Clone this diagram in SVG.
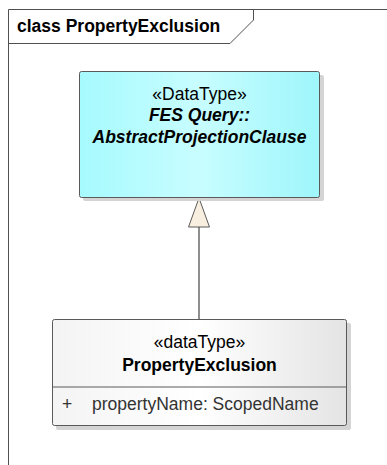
<svg xmlns="http://www.w3.org/2000/svg" width="387" height="465" viewBox="0 0 387 465">
<style>
text{font-family:"Liberation Sans",Arial,sans-serif;fill:#000}
.t{font-size:17.5px;font-weight:bold}
.n{font-size:17.5px}
.c{text-anchor:middle}
.b{font-weight:bold}
.i{font-style:italic;font-weight:bold}
.box{stroke:#5a5a5a;stroke-width:1}
.sh{fill:#d4d4d4}
.ln{stroke:#6a6a6a;stroke-width:1.5;fill:none}
</style>
<defs>
<linearGradient id="gc" x1="0" y1="0" x2="1" y2="0">
<stop offset="0" stop-color="#a6fafe"/>
<stop offset="0.5" stop-color="#c8fdff"/>
<stop offset="1" stop-color="#9ef6fb"/>
</linearGradient>
<linearGradient id="gw" x1="0" y1="0" x2="1" y2="0">
<stop offset="0" stop-color="#f4f4f4"/>
<stop offset="0.5" stop-color="#ffffff"/>
<stop offset="1" stop-color="#e4e4e4"/>
</linearGradient>
</defs>
<rect width="387" height="465" fill="#fff"/>
<g id="frame">
<path d="M8.5 465 V9.5 H387" fill="none" stroke="#505050" stroke-width="1"/>
<path d="M8.5 43.5 H230 L253.5 20 V9.5" fill="none" stroke="#505050" stroke-width="1"/>
<text class="t" x="17" y="32">class PropertyExclusion</text>
</g>
<g id="connectors">
<line class="ln" x1="199" y1="227" x2="199" y2="319"/>
<polygon points="199,198 188.5,227 209.5,227" fill="#f9efe0" stroke="#5a5a5a" stroke-width="1"/>
</g>
<g id="AbstractProjectionClause">
<rect class="sh" x="83" y="75" width="241" height="126" rx="2"/>
<rect class="box" x="79.5" y="71.5" width="240" height="126" rx="2" fill="url(#gc)"/>
<text class="n c" x="199.5" y="100">«DataType»</text>
<text class="n c i" x="199.5" y="121">FES Query::</text>
<text class="n c i" x="199.5" y="143">AbstractProjectionClause</text>
</g>
<g id="PropertyExclusion">
<rect class="sh" x="56" y="323" width="295" height="107" rx="2"/>
<rect class="box" x="52.5" y="319.5" width="294" height="106" rx="2" fill="url(#gw)"/>
<line x1="52.5" y1="387" x2="346.5" y2="387" stroke="#5a5a5a" stroke-width="1"/>
<text class="n c" x="199.5" y="348">«dataType»</text>
<text class="n c b" x="199.5" y="371">PropertyExclusion</text>
<text class="n" x="62" y="410" style="fill:#333">+</text>
<text class="n" x="92" y="410" style="fill:#333">propertyName: ScopedName</text>
</g>
</svg>
